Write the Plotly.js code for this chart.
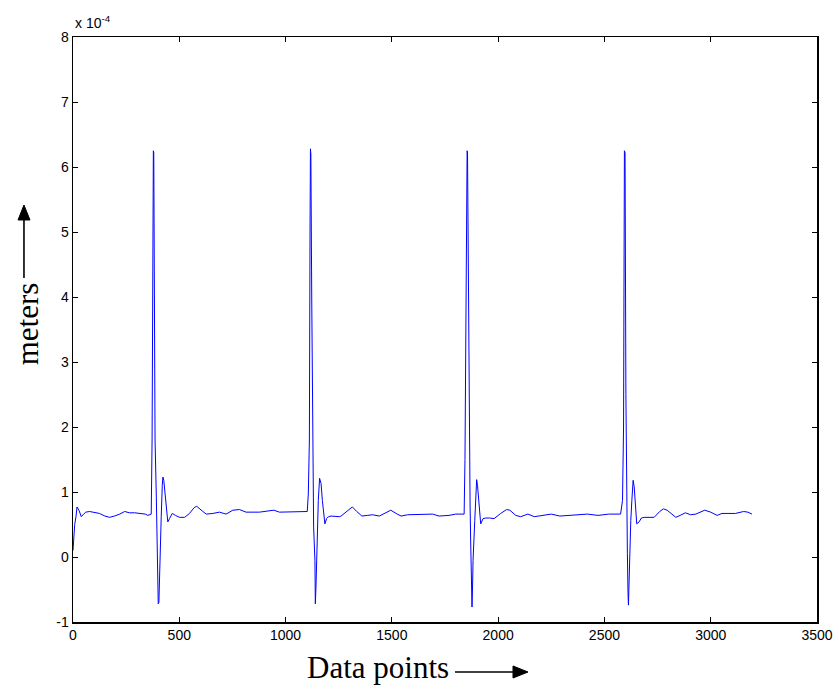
<!DOCTYPE html>
<html>
<head>
<meta charset="utf-8">
<script src="https://cdn.plot.ly/plotly-3.0.1.min.js"></script>
<style>
html,body{margin:0;padding:0;background:#fff;}
#chart{width:839px;height:693px;}
</style>
</head>
<body>
<div id="chart"></div>
<script>
// Data point index (x) and displacement in units of 1e-4 meters (y)
const dataPoints = [
  0,3,8,14,19,28,39,50,60,78,100,125,150,172,195,220,243,266,290,313,340,352,362,368,
  372,376,378,380,383,386,392,396,401,404,408,415,420,423,427,432,439,446,454,467,482,501,525,548,570,582,611,627,658,689,720,752,783,814,877,900,923,945,971,1018,1049,1096,1102,
  1107,1112,1115,1117,1119,1123,1127,1132,1138,1140,1143,1148,1154,1160,1167,1173,1178,1185,1193,1202,1214,1253,1261,1290,1314,1335,1359,1385,1409,1441,1470,1495,1520,1543,1574,1620,1660,1692,1722,1769,1800,1840,
  1844,1850,1854,1856,1860,1863,1868,1871,1874,1877,1880,1882,1890,1896,1899,1903,1906,1910,1918,1929,1942,1960,1981,2012,2040,2055,2083,2106,2125,2140,2170,2210,2250,2290,2330,2380,2420,2470,2520,2576,
  2585,2590,2594,2597,2601,2604,2608,2611,2613,2615,2618,2624,2629,2635,2640,2645,2652,2663,2674,2687,2734,2760,2778,2795,2812,2836,2856,2881,2905,2930,2972,3000,3030,3053,3116,3155,3175,3194
];
const metersE4 = [
  0.10,0.30,0.50,0.62,0.77,0.72,0.62,0.66,0.69,0.70,0.69,0.67,0.63,0.61,0.63,0.66,0.70,0.68,0.68,0.67,0.66,0.64,0.66,0.66,
  1.80,5.00,6.25,6.22,4.00,1.80,0.92,-0.20,-0.72,-0.70,-0.05,0.62,1.10,1.23,1.18,1.03,0.77,0.54,0.59,0.67,0.64,0.61,0.61,0.67,0.76,0.78,0.70,0.66,0.67,0.69,0.66,0.72,0.73,0.69,0.69,0.70,0.72,0.72,0.69,0.69,0.70,0.70,0.70,
  0.97,1.80,5.00,6.28,6.20,4.00,1.60,0.46,-0.05,-0.72,-0.46,0.21,0.87,1.21,1.13,0.87,0.67,0.51,0.59,0.62,0.63,0.62,0.63,0.70,0.77,0.70,0.63,0.64,0.65,0.63,0.68,0.72,0.67,0.63,0.65,0.65,0.66,0.66,0.63,0.64,0.66,0.66,
  1.50,5.00,6.25,6.20,4.15,2.10,0.80,0.20,-0.50,-0.77,-0.40,-0.05,0.56,1.03,1.19,1.10,0.97,0.72,0.51,0.59,0.60,0.60,0.59,0.67,0.73,0.72,0.64,0.62,0.64,0.66,0.62,0.64,0.66,0.63,0.64,0.66,0.66,0.64,0.66,0.66,
  0.87,2.00,6.25,6.22,2.50,0.72,0.05,-0.56,-0.74,-0.50,0.05,0.56,0.87,1.18,1.08,0.77,0.51,0.54,0.60,0.61,0.61,0.70,0.74,0.72,0.67,0.61,0.64,0.68,0.65,0.66,0.72,0.69,0.64,0.67,0.67,0.70,0.69,0.66
];
const xTicks = [0,500,1000,1500,2000,2500,3000,3500];
const yTicks = [-1,0,1,2,3,4,5,6,7,8];

const trace = {
  x: dataPoints, y: metersE4, type: 'scatter', mode: 'lines',
  line: {color: '#0000FF', width: 1}, hoverinfo: 'skip'
};

const tickFont = {family: 'Liberation Sans, Arial, sans-serif', size: 14, color: '#000'};
const titleFont = {family: 'Liberation Serif, Times New Roman, serif', size: 31, color: '#000'};

const layout = {
  width: 839, height: 693,
  margin: {l: 73, r: 22, t: 37, b: 71, pad: 0},
  paper_bgcolor: '#fff', plot_bgcolor: '#fff',
  showlegend: false,
  xaxis: {
    range: [0, 3500], tickvals: xTicks, ticktext: xTicks.map(String),
    ticks: 'inside', ticklen: 5, tickwidth: 1, tickcolor: '#000',
    showline: true, linecolor: '#000', linewidth: 1.5, mirror: 'ticks',
    showgrid: false, zeroline: false, tickfont: tickFont
  },
  yaxis: {
    range: [-1, 8], tickvals: yTicks, ticktext: yTicks.map(String),
    ticks: 'inside', ticklen: 5, tickwidth: 1, tickcolor: '#000',
    showline: true, linecolor: '#000', linewidth: 1.5, mirror: 'ticks',
    showgrid: false, zeroline: false, tickfont: tickFont
  },
  annotations: [
    {xref: 'paper', yref: 'paper', x: 0, y: 1, xanchor: 'left', yanchor: 'bottom', yshift: 4,
     text: 'x 10<sup>-4</sup>', showarrow: false, font: tickFont},
    {xref: 'paper', yref: 'paper', x: 0.41, y: -0.0786, xanchor: 'center', yanchor: 'middle',
     text: 'Data points', showarrow: false, font: titleFont},
    {xref: 'paper', yref: 'paper', x: -0.0618, y: 0.509, xanchor: 'center', yanchor: 'middle',
     text: 'meters', textangle: -90, showarrow: false, font: titleFont}
  ],
  shapes: [
    // x-axis title arrow
    {type: 'line', xref: 'paper', yref: 'paper', x0: 0.5134, y0: -0.0855, x1: 0.5940, y1: -0.0855,
     line: {color: '#000', width: 1.6}},
    {type: 'path', xref: 'paper', yref: 'paper',
     path: 'M 0.5914 -0.0752 L 0.6116 -0.0855 L 0.5914 -0.0957 Z',
     fillcolor: '#000', line: {color: '#000', width: 1}},
    // y-axis title arrow
    {type: 'line', xref: 'paper', yref: 'paper', x0: -0.0659, y0: 0.588, x1: -0.0659, y1: 0.690,
     line: {color: '#000', width: 1.6}},
    {type: 'path', xref: 'paper', yref: 'paper',
     path: 'M -0.0739 0.6872 L -0.0659 0.7128 L -0.0578 0.6872 Z',
     fillcolor: '#000', line: {color: '#000', width: 1}}
  ]
};

Plotly.newPlot('chart', [trace], layout, {displayModeBar: false, staticPlot: true});
</script>
</body>
</html>
